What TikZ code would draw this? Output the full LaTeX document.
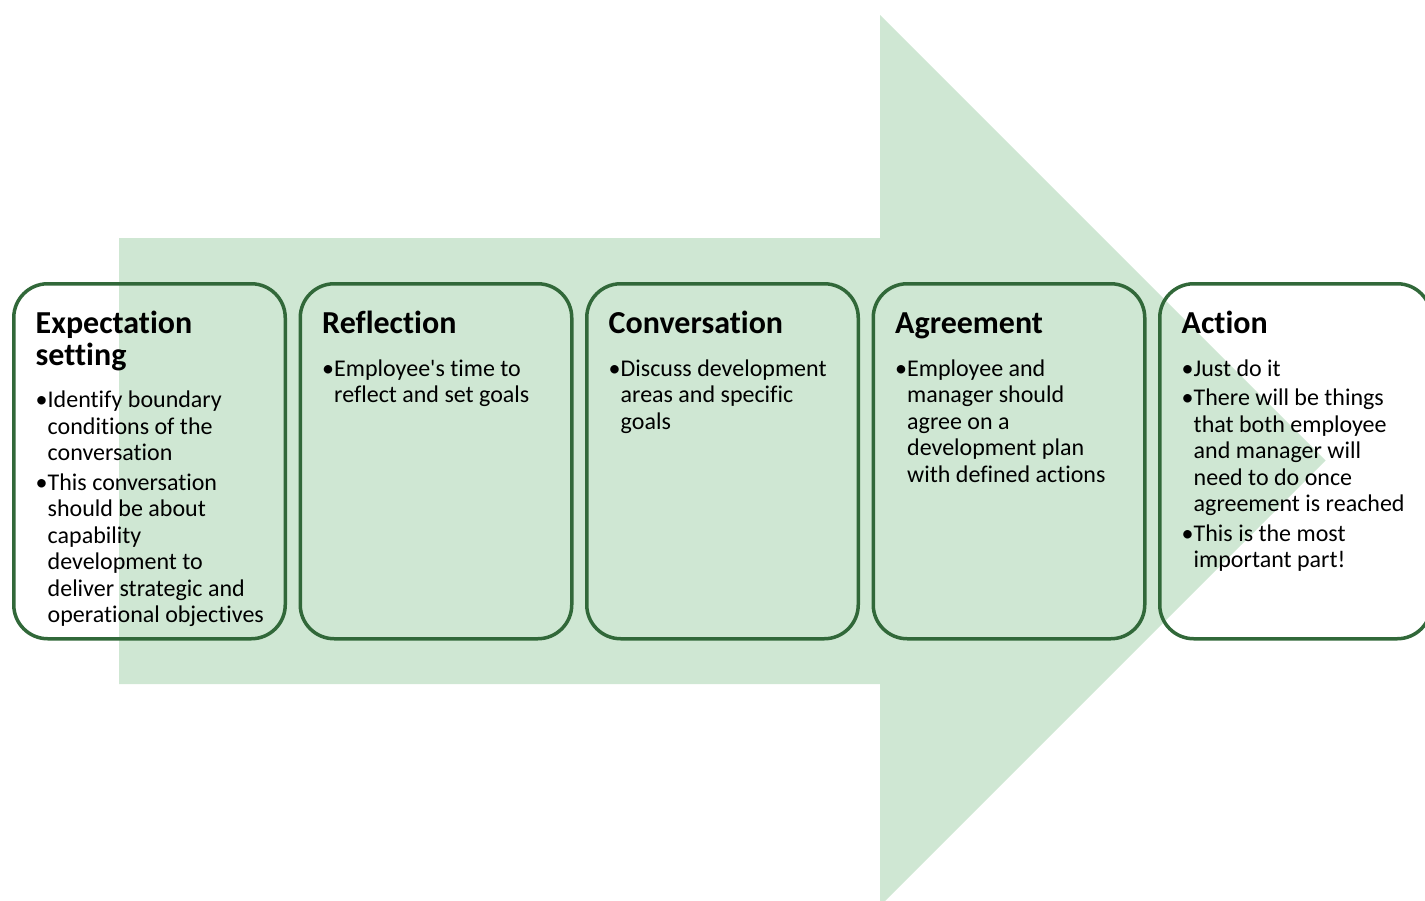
\documentclass[tikz,border=0pt]{standalone}
\usepackage{fontspec}
\newfontfamily\calfont{Carlito}[Ligatures=NoCommon]
\definecolor{arrowfill}{RGB}{207,231,211}
\definecolor{boxline}{RGB}{49,104,57}
% fonts and line helpers for the stage texts
\newcommand\ttlfont{\calfont\fontsize{32}{32}\selectfont\bfseries}
\newcommand\bodyfont{\calfont\fontsize{24}{26.5}\selectfont}
\newlength\bind \setlength\bind{12pt}
\newcommand\ttl[2]{\baselineskip=#1\relax\hbox{\ttlfont #2}}
\newcommand\bfirst[2]{\baselineskip=#1\relax\hbox{\bodyfont\makebox[\bind][l]{•}#2}}
\newcommand\bnext[1]{\baselineskip=26.5pt\relax\hbox{\bodyfont\hspace*{\bind}#1}}
\newcommand\stack[1]{\vtop{\lineskiplimit=-\maxdimen\lineskip=0pt #1}}
\tikzset{
  stagebox/.style={draw=boxline, line width=3.5pt, rounded corners=34pt,
    minimum width=271.5pt, minimum height=355pt, inner sep=0pt},
  stagetext/.style={anchor=base west, inner sep=0pt, text=black},
}
\begin{document}
\begin{tikzpicture}[x=1pt,y=-1pt]
\useasboundingbox (0,0) rectangle (1425,900);
\clip (0,0) rectangle (1425,900);
% the big background arrow
\fill[arrowfill] (119,238) -- (880,238) -- (880,15) -- (1325.5,460.5)
  -- (880,906) -- (880,684) -- (119,684) -- cycle;
% stage boxes
\node[stagebox] (b1) at (149.5,461.25) {};
\node[stagebox] (b2) at (436,461.25) {};
\node[stagebox] (b3) at (722.5,461.25) {};
\node[stagebox] (b4) at (1009,461.25) {};
\node[stagebox] (b5) at (1295.5,461.25) {};
% stage texts
\node[stagetext] (t1) at (35.5,333) {\stack{%
  \ttl{32pt}{Expectation}
  \ttl{32pt}{setting}
  \bfirst{42.5pt}{Identify boundary}
  \bnext{conditions of the}
  \bnext{conversation}
  \bfirst{29.5pt}{This conversation}
  \bnext{should be about}
  \bnext{capability}
  \bnext{development to}
  \bnext{deliver strategic and}
  \bnext{operational objectives}}};
\node[stagetext] (t2) at (322,333) {\stack{%
  \ttl{32pt}{Reflection}
  \bfirst{43pt}{Employee's time to}
  \bnext{reflect and set goals}}};
\node[stagetext] (t3) at (608.5,333) {\stack{%
  \ttl{32pt}{Conversation}
  \bfirst{43pt}{Discuss development}
  \bnext{areas and specific}
  \bnext{goals}}};
\node[stagetext] (t4) at (895,333) {\stack{%
  \ttl{32pt}{Agreement}
  \bfirst{43pt}{Employee and}
  \bnext{manager should}
  \bnext{agree on a}
  \bnext{development plan}
  \bnext{with defined actions}}};
\node[stagetext] (t5) at (1181.5,333) {\stack{%
  \ttl{32pt}{Action}
  \bfirst{43pt}{Just do it}
  \bfirst{29.5pt}{There will be things}
  \bnext{that both employee}
  \bnext{and manager will}
  \bnext{need to do once}
  \bnext{agreement is reached}
  \bfirst{29.5pt}{This is the most}
  \bnext{important part!}}};
\end{tikzpicture}
\end{document}
